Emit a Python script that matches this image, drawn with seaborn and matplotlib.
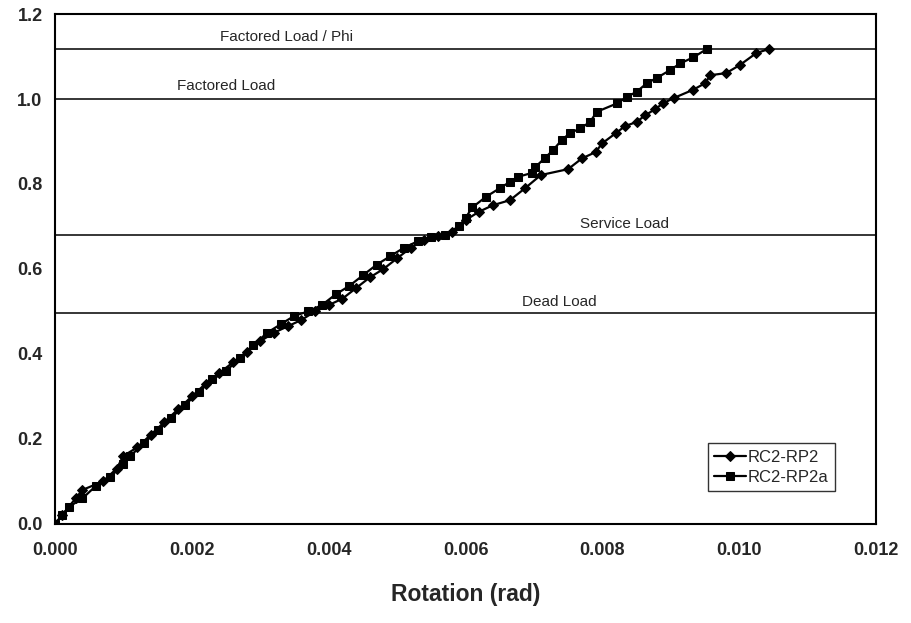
import matplotlib
matplotlib.use("Agg")
import matplotlib.pyplot as plt
import seaborn as sns

# RC2-RP2 (diamonds)
rp2_rot = [0, 0.0001, 0.0003, 0.0004, 0.0007, 0.0009, 0.0010, 0.0012, 0.0014, 0.0016,
           0.0018, 0.0020, 0.0022, 0.0024, 0.0026, 0.0028, 0.0030, 0.0032, 0.0034, 0.0036,
           0.0038, 0.0040, 0.0042, 0.0044, 0.0046, 0.0048, 0.0050, 0.0052, 0.0054, 0.0056,
           0.0058, 0.0060, 0.0062, 0.0064, 0.00665, 0.00687, 0.0071, 0.0075, 0.0077, 0.0079,
           0.0080, 0.0082, 0.00833, 0.0085, 0.00863, 0.00877, 0.00889, 0.00904, 0.00933, 0.0095,
           0.00958, 0.00981, 0.01001, 0.01025, 0.01044]
rp2_load = [0, 0.02, 0.06, 0.08, 0.10, 0.13, 0.16, 0.18, 0.21, 0.24,
            0.27, 0.30, 0.33, 0.355, 0.38, 0.405, 0.43, 0.45, 0.465, 0.48,
            0.50, 0.515, 0.53, 0.555, 0.58, 0.60, 0.625, 0.65, 0.668, 0.677,
            0.687, 0.715, 0.735, 0.75, 0.762, 0.79, 0.821, 0.835, 0.86, 0.875,
            0.896, 0.92, 0.936, 0.946, 0.962, 0.976, 0.99, 1.002, 1.022, 1.037,
            1.056, 1.061, 1.08, 1.108, 1.118]

# RC2-RP2a (squares)
rp2a_rot = [0, 0.0001, 0.0002, 0.0004, 0.0006, 0.0008, 0.0010, 0.0011, 0.0013, 0.0015,
            0.0017, 0.0019, 0.0021, 0.0023, 0.0025, 0.0027, 0.0029, 0.0031, 0.0033, 0.0035,
            0.0037, 0.0039, 0.0041, 0.0043, 0.0045, 0.0047, 0.0049, 0.0051, 0.0053, 0.0055,
            0.0057, 0.0059, 0.0060, 0.0061, 0.0063, 0.0065, 0.00665, 0.00677, 0.00697, 0.00702,
            0.00716, 0.00728, 0.00741, 0.00753, 0.00768, 0.00782, 0.00792, 0.00822, 0.00836, 0.0085,
            0.00865, 0.0088, 0.00899, 0.00914, 0.00933, 0.00953]
rp2a_load = [0, 0.02, 0.04, 0.06, 0.09, 0.11, 0.14, 0.16, 0.19, 0.22,
             0.25, 0.28, 0.31, 0.34, 0.36, 0.39, 0.42, 0.45, 0.47, 0.49,
             0.50, 0.515, 0.54, 0.56, 0.585, 0.61, 0.63, 0.65, 0.665, 0.675,
             0.68, 0.70, 0.72, 0.745, 0.77, 0.79, 0.805, 0.817, 0.826, 0.84,
             0.861, 0.88, 0.904, 0.92, 0.931, 0.946, 0.97, 0.99, 1.005, 1.017,
             1.037, 1.05, 1.068, 1.084, 1.098, 1.118]

# reference load levels
ref_names = ["Factored Load / Phi", "Factored Load", "Service Load", "Dead Load"]
ref_levels = [1.118, 1.0, 0.68, 0.496]
ref_text_x = [0.00339, 0.0025, 0.00832, 0.00737]
ref_text_y = [1.146, 1.031, 0.706, 0.522]

sns.set_style("white")
plt.rcParams['font.family'] = ['Liberation Sans', 'DejaVu Sans']

fig = plt.figure(figsize=(9.11, 6.23), dpi=100)
ax = fig.add_axes([0.0604, 0.159, 0.9012, 0.8185])

for lvl in ref_levels:
    ax.axhline(lvl, color='black', lw=1.1, zorder=1)
for name, tx, ty in zip(ref_names, ref_text_x, ref_text_y):
    ax.text(tx, ty, name, ha='center', va='center', fontsize=11)

sns.lineplot(x=rp2_rot, y=rp2_load, sort=False, estimator=None, ax=ax,
             color='black', lw=1.6, marker='D', markersize=5, markeredgecolor='black',
             label='RC2-RP2', zorder=3)
sns.lineplot(x=rp2a_rot, y=rp2a_load, sort=False, estimator=None, ax=ax,
             color='black', lw=1.6, marker='s', markersize=5.5, markeredgecolor='black',
             label='RC2-RP2a', zorder=3)

ax.set_xlim(0, 0.012)
ax.set_ylim(0, 1.2)
ax.set_xticks([0, 0.002, 0.004, 0.006, 0.008, 0.010, 0.012])
ax.set_xticklabels(["0.000", "0.002", "0.004", "0.006", "0.008", "0.010", "0.012"])
ax.set_yticks([0, 0.2, 0.4, 0.6, 0.8, 1.0, 1.2])
ax.set_yticklabels(["0.0", "0.2", "0.4", "0.6", "0.8", "1.0", "1.2"])
ax.tick_params(axis='x', direction='inout', length=8, width=1, pad=9, labelsize=13)
ax.tick_params(axis='y', direction='out', length=6, width=1, pad=3, labelsize=13)
for lab in ax.get_xticklabels() + ax.get_yticklabels():
    lab.set_fontweight('bold')
for sp in ax.spines.values():
    sp.set_color('black')
    sp.set_linewidth(1.5)

ax.set_xlabel("Rotation (rad)", fontsize=16.5, fontweight='bold', labelpad=17)
ax.set_ylabel("")

leg = ax.legend(loc='upper left', bbox_to_anchor=(0.795, 0.159), fontsize=12,
                frameon=True, fancybox=False, handlelength=1.9, handletextpad=0.1,
                borderpad=0.4, labelspacing=0.3, borderaxespad=0)
leg.get_frame().set_edgecolor('black')
leg.get_frame().set_linewidth(1.0)

fig.savefig("out.png", dpi=100)
